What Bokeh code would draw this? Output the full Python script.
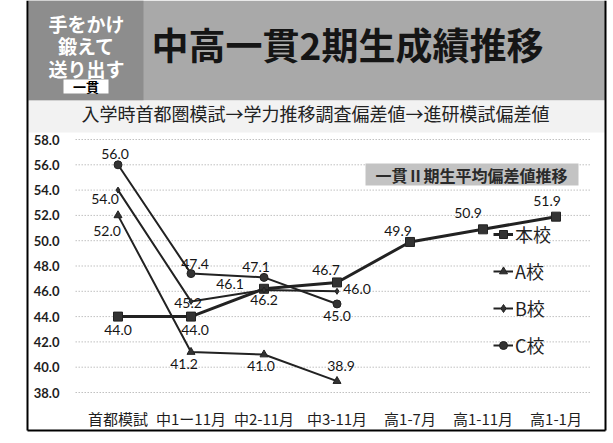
from bokeh.plotting import figure
from bokeh.models import (ColumnDataSource, LabelSet, FixedTicker, PrintfTickFormatter,
                          Legend, LegendItem, Range1d)
from bokeh.embed import file_html
from bokeh.resources import INLINE
from bokeh.core.properties import value

# ---------------- data ----------------
categories = ["首都模試", "中1ー11月", "中2-11月", "中3-11月", "高1-7月", "高1-11月", "高1-1月"]
honko = [44.0, 44.0, 46.2, 46.7, 49.9, 50.9, 51.9]
a_ko = [52.0, 41.2, 41.0, 38.9]
b_ko = [54.0, 45.2, 46.1, 46.0]
c_ko = [56.0, 47.4, 47.1, 45.0]
series_names = ["本校", "A校", "B校", "C校"]
y_ticks = [38.0, 40.0, 42.0, 44.0, 46.0, 48.0, 50.0, 52.0, 54.0, 56.0, 58.0]

main_title = "中高一貫2期生成績推移"
sub_title = "入学時首都圏模試→学力推移調査偏差値→進研模試偏差値"
box_title = "一貫Ⅱ期生平均偏差値推移"
side_lines = ["手をかけ", "鍛えて", "送り出す"]
side_tag = "一貫"

# ---------------- label offsets (style) ----------------
off_honko = [(0, -13), (4, -13), (0, -11), (-11, 12), (-12, 11), (-15, 16), (-9, 16)]
off_a = [(-11, -16), (-7, -12), (-3, -11), (4, 15)]
off_b = [(-13, -9), (-3, -2), (-34, 6), (20, 2)]
off_c = [(-3, 11), (4, 10), (-8, 10), (0, -12)]

# ---------------- layout (pixels) ----------------
W, H = 612, 440
X0, DX = 117.5, 73.0          # canvas x of first category, spacing
Y_TOP, Y_BOT = 139.0, 392.0   # canvas y of 58 and 38
YMIN, YMAX = y_ticks[0], y_ticks[-1]
PPU = (Y_BOT - Y_TOP) / (YMAX - YMIN)

CJK = "Noto Sans CJK JP"
INK = "#1e1e1e"

x_range = Range1d(-X0 / DX, (W - X0) / DX)
y_range = Range1d(YMIN - (H - Y_BOT) / PPU, YMAX + Y_TOP / PPU)

p = figure(width=W, height=H, output_backend="svg", toolbar_location=None,
           x_range=x_range, y_range=y_range, min_border=0)
p.background_fill_color = "white"
p.border_fill_color = "white"
p.outline_line_color = None
p.extra_x_ranges = {"px": Range1d(0, W)}
p.extra_y_ranges = {"py": Range1d(H, 0)}

# axes placed inside the frame
p.xaxis.fixed_location = YMIN
p.yaxis.fixed_location = -0.5
p.xaxis.ticker = FixedTicker(ticks=list(range(len(categories))))
p.xaxis.major_label_overrides = {i: c for i, c in enumerate(categories)}
p.xaxis.major_label_text_font = CJK
p.xaxis.major_label_text_font_size = "15px"
p.xaxis.major_label_text_color = INK
p.xaxis.major_label_standoff = 9
p.yaxis.ticker = FixedTicker(ticks=y_ticks)
p.yaxis.formatter = PrintfTickFormatter(format="%.1f")
p.yaxis.major_label_text_font = "Lato"
p.yaxis.major_label_text_font_style = "bold"
p.yaxis.major_label_text_font_size = "13px"
p.yaxis.major_label_text_color = INK
p.yaxis.major_label_standoff = 16
for ax in (p.xaxis, p.yaxis):
    ax.axis_line_color = None
    ax.major_tick_line_color = None
    ax.minor_tick_line_color = None
p.xgrid.grid_line_color = None
p.ygrid.grid_line_color = None

# dotted horizontal grid lines limited to the plot area
p.segment(x0=-0.58, x1=6.47, y0=y_ticks, y1=y_ticks,
          line_color="#a0a0a0", line_dash="1 2", line_width=1)

# ---------------- decorations (pixel ranges) ----------------
px = dict(x_range_name="px", y_range_name="py")
p.quad(left=[28, 28, 63, 28, 365], right=[605, 143, 108, 605, 578],
       top=[0, 0, 79, 100, 163], bottom=[100, 100, 93, 132, 185],
       fill_color=["#a9a9a9", "#8d8d8d", "white", "#f2f2f2", "#c3c3c3"],
       line_color=None, **px)
p.segment(x0=[27, 27, 605], y0=[0, 430, 0], x1=[27, 605, 605], y1=[430, 430, 430],
          line_color="black", line_width=2, **px)

def ptext(xs, ys, texts, size, color, style="normal"):
    p.text(x=xs, y=ys, text=texts, text_font=value(CJK), text_font_size=value(size),
           text_color=color, text_font_style=style, text_align="center",
           text_baseline="middle", **px)

ptext([86, 86, 86], [22.5, 45, 68], side_lines, "19px", "white", "bold")
ptext([85.5], [86], [side_tag], "13px", "black", "bold")
ptext([347], [43], [main_title], "37px", "#151515", "bold")
ptext([315], [112], [sub_title], "18px", "#222222")
ptext([471], [174], [box_title], "16px", "#2a2a2a", "bold")

# ---------------- series ----------------
specs = [
    (honko, off_honko, "square", 9, 3),
    (a_ko, off_a, "triangle", 8, 2),
    (b_ko, off_b, "diamond", 6, 2),
    (c_ko, off_c, "circle", 8, 2),
]
items = []
for name, (vals, offs, marker, msize, lw) in zip(series_names, specs):
    src = ColumnDataSource(dict(
        x=list(range(len(vals))), y=vals, t=[f"{v:.1f}" for v in vals],
        dx=[o[0] for o in offs], dy=[o[1] for o in offs]))
    ln = p.line("x", "y", source=src, line_color="#222222", line_width=lw)
    sc = p.scatter("x", "y", source=src, marker=marker, size=msize,
                   fill_color="#333333", line_color="#222222")
    p.add_layout(LabelSet(x="x", y="y", text="t", source=src, x_offset="dx", y_offset="dy",
                          text_font=value("Lato"), text_font_size="14px", text_color="#151515",
                          text_align="center", text_baseline="middle"))
    items.append(LegendItem(label=name, renderers=[ln, sc]))

legend = Legend(items=items, location=(493, H - 358), padding=0, margin=0, spacing=11,
                glyph_width=20, glyph_height=20, label_height=20, label_standoff=2,
                label_text_font=CJK, label_text_font_size="18px", label_text_color="#222222",
                background_fill_alpha=0, border_line_color=None)
p.add_layout(legend)

open("out.html", "w").write(file_html(p, INLINE))
